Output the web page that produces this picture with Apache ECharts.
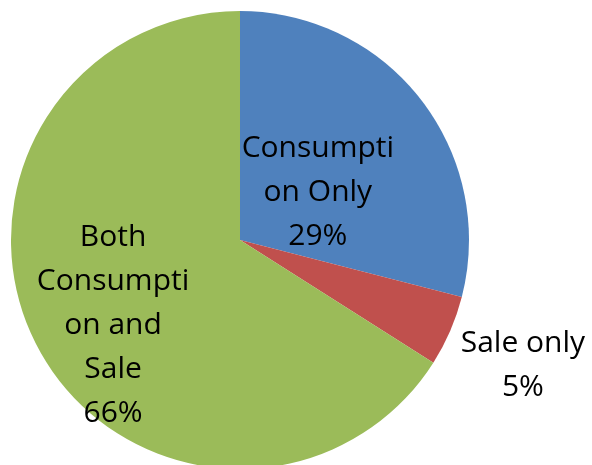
<!DOCTYPE html>
<html><head><meta charset="utf-8">
<script src="https://cdn.jsdelivr.net/npm/echarts@6/dist/echarts.min.js"></script>
<style>html,body{margin:0;padding:0;background:#fff}#c{width:592px;height:465px}</style>
</head><body><div id="c"></div>
<script>
const categories = ['Consumpti\non Only', 'Sale only', 'Both\nConsumpti\non and\nSale'];
const values = [29, 5, 66];
const colors = ['#4F81BD', '#C0504D', '#9BBB59'];
const offsets = [[-15, 24], [24, 29], [-24, 29]];

const chart = echarts.init(document.getElementById('c'));
chart.setOption({
  animation: false,
  series: [{
    type: 'pie',
    center: [240, 240],
    radius: [0, 229],
    startAngle: 90,
    clockwise: true,
    itemStyle: { borderWidth: 0 },
    label: {
      show: true,
      position: 'inside',
      formatter: p => p.name + '\n' + p.value + '%',
      fontFamily: 'Open Sans',
      fontSize: 30,
      lineHeight: 44,
      color: '#000',
      align: 'center',
      overflow: 'none'
    },
    labelLine: { show: false },
    labelLayout: function (params) {
      const o = offsets[params.dataIndex];
      return { dx: o[0], dy: o[1], align: 'center' };
    },
    data: categories.map((c, i) => ({
      name: c,
      value: values[i],
      itemStyle: { color: colors[i] },
      label: i === 1 ? { position: 'outside', distance: 20, align: 'center', overflow: 'none', width: 200 } : undefined
    }))
  }]
});
</script></body></html>
